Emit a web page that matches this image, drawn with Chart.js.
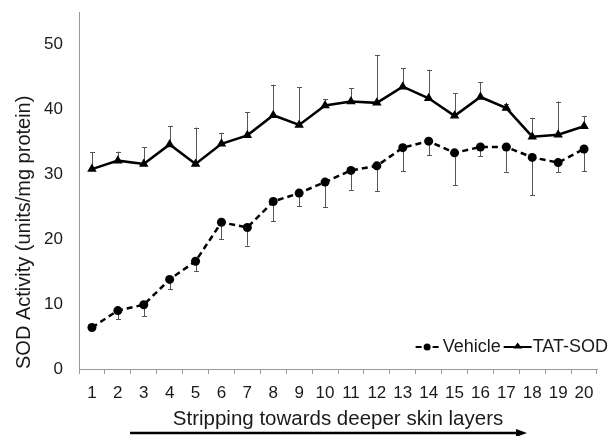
<!DOCTYPE html>
<html>
<head>
<meta charset="utf-8">
<script src="https://cdn.jsdelivr.net/npm/chart.js@4.4.1/dist/chart.umd.min.js"></script>
<style>
html,body{margin:0;padding:0;background:#fff;}
</style>
</head>
<body>
<canvas id="sod" width="611" height="436"></canvas>
<script>
// stripping layers
var layers = ['1','2','3','4','5','6','7','8','9','10','11','12','13','14','15','16','17','18','19','20'];
// SOD activity, units/mg protein
var vehicle    = [6.4, 9.0, 9.9, 13.8, 16.6, 22.6, 21.8, 25.8, 27.1, 28.8, 30.6, 31.3, 34.1, 35.1, 33.3, 34.2, 34.2, 32.6, 31.8, 33.9];
var vehicleErr = [0.3, 1.3, 1.8, 1.5, 1.5, 2.6, 2.8, 3.0, 2.0, 3.9, 3.0, 3.9, 3.6, 2.2, 5.0, 1.4, 3.8, 5.8, 1.5, 3.4];
var tatSod     = [30.8, 32.1, 31.6, 34.6, 31.6, 34.7, 36.0, 39.1, 37.6, 40.6, 41.2, 41.0, 43.5, 41.7, 39.0, 41.9, 40.2, 35.8, 36.1, 37.4];
var tatSodErr  = [2.6, 1.4, 2.6, 2.8, 5.6, 1.7, 3.6, 4.7, 5.8, 1.0, 2.1, 7.4, 2.8, 4.4, 3.5, 2.3, 0.6, 2.9, 5.1, 1.6];
var yTicks = [0, 10, 20, 30, 40, 50];

var FONT = "'Liberation Sans', Arial, sans-serif";
var TEXT = '#1a1a1a';
var AXIS = '#9a9a9a';

// one-sided error bars: vehicle goes down, TAT-SOD goes up
var errorBars = {
    id: 'errorBars',
    beforeDatasetsDraw: function(chart){
        var ctx = chart.ctx;
        var y = chart.scales.y;
        ctx.save();
        ctx.strokeStyle = '#555';
        ctx.lineWidth = 1;
        chart.data.datasets.forEach(function(ds, i){
            var meta = chart.getDatasetMeta(i);
            meta.data.forEach(function(pt, j){
                var end = y.getPixelForValue(ds.data[j] + ds.errorDir * ds.errors[j]);
                var px = Math.round(pt.x) + 0.5;
                ctx.beginPath();
                ctx.moveTo(px, pt.y);
                ctx.lineTo(px, end);
                ctx.moveTo(px - 2.5, Math.round(end) + 0.5);
                ctx.lineTo(px + 2.5, Math.round(end) + 0.5);
                ctx.stroke();
            });
        });
        ctx.restore();
    }
};

// legend inside the plot, bottom right, plus the arrow under the axis title
var extras = {
    id: 'extras',
    afterDraw: function(chart){
        var ctx = chart.ctx;
        var area = chart.chartArea;
        ctx.save();
        ctx.font = '18px ' + FONT;
        ctx.fillStyle = TEXT;
        ctx.textBaseline = 'middle';
        var ly = area.bottom - 22;
        var right = area.right + 11;
        var wTat = ctx.measureText('TAT-SOD').width;
        var wVeh = ctx.measureText('Vehicle').width;
        var xTatText = right - wTat;
        var xTatLine = xTatText - 29;
        var xVehText = xTatLine - 3 - wVeh;
        var xVehLine = xVehText - 27;
        ctx.textAlign = 'left';
        ctx.fillText('TAT-SOD', xTatText, ly);
        ctx.fillText('Vehicle', xVehText, ly);
        ctx.strokeStyle = '#000';
        ctx.fillStyle = '#000';
        ctx.lineWidth = 2;
        // vehicle sample: -●-
        ctx.beginPath();
        ctx.moveTo(xVehLine, ly); ctx.lineTo(xVehLine + 6, ly);
        ctx.moveTo(xVehLine + 17, ly); ctx.lineTo(xVehLine + 23, ly);
        ctx.stroke();
        ctx.beginPath();
        ctx.arc(xVehLine + 11.5, ly, 3.5, 0, Math.PI * 2);
        ctx.fill();
        // TAT-SOD sample: —▲—
        ctx.beginPath();
        ctx.moveTo(xTatLine, ly); ctx.lineTo(xTatLine + 28, ly);
        ctx.stroke();
        ctx.beginPath();
        ctx.moveTo(xTatLine + 14, ly - 4.5);
        ctx.lineTo(xTatLine + 18.5, ly + 1.5);
        ctx.lineTo(xTatLine + 9.5, ly + 1.5);
        ctx.closePath();
        ctx.fill();
        // arrow
        var ay = chart.height - 3;
        var ax0 = area.left + 51;
        var ax1 = area.left + 448;
        ctx.lineWidth = 2.5;
        ctx.beginPath();
        ctx.moveTo(ax0, ay); ctx.lineTo(ax1 - 8, ay);
        ctx.stroke();
        ctx.beginPath();
        ctx.moveTo(ax1, ay);
        ctx.lineTo(ax1 - 11, ay - 4);
        ctx.lineTo(ax1 - 11, ay + 4);
        ctx.closePath();
        ctx.fill();
        ctx.restore();
    }
};

var chart = new Chart(document.getElementById('sod').getContext('2d'), {
    type: 'line',
    data: {
        labels: layers,
        datasets: [{
            label: 'Vehicle',
            data: vehicle,
            errors: vehicleErr,
            errorDir: -1,
            borderColor: '#000',
            backgroundColor: '#000',
            borderWidth: 2.5,
            borderDash: [6, 4],
            pointStyle: 'circle',
            pointRadius: 4.5,
            pointBorderWidth: 0,
            tension: 0
        }, {
            label: 'TAT-SOD',
            data: tatSod,
            errors: tatSodErr,
            errorDir: 1,
            borderColor: '#000',
            backgroundColor: '#000',
            borderWidth: 2.5,
            pointStyle: 'triangle',
            pointRadius: 5.5,
            pointBorderWidth: 0,
            tension: 0
        }]
    },
    options: {
        responsive: false,
        animation: false,
        devicePixelRatio: 1,
        layout: { padding: { top: 12, right: 14, left: 0, bottom: 0 } },
        plugins: {
            legend: { display: false },
            tooltip: { enabled: false }
        },
        scales: {
            x: {
                type: 'category',
                offset: true,
                grid: { display: true, drawOnChartArea: false, offset: true, tickLength: 5, color: AXIS },
                border: { display: true, color: AXIS, width: 1 },
                ticks: { color: TEXT, font: { family: FONT, size: 17 }, padding: 9, maxRotation: 0, autoSkip: false },
                title: {
                    display: true,
                    text: 'Stripping towards deeper skin layers',
                    color: TEXT,
                    font: { family: FONT, size: 20.5 },
                    padding: { top: 0, bottom: 4 }
                },
                afterFit: function(s){ s.height = 67; s.paddingLeft = 0; s.paddingRight = 0; }
            },
            y: {
                min: 0,
                max: 55,
                grid: { display: true, drawOnChartArea: false, drawTicks: false },
                border: { display: true, color: AXIS, width: 1 },
                ticks: { stepSize: 10, color: TEXT, font: { family: FONT, size: 17 }, padding: 16 },
                afterBuildTicks: function(s){
                    s.ticks = yTicks.map(function(v){ return { value: v }; });
                },
                title: {
                    display: true,
                    text: 'SOD Activity (units/mg protein)',
                    align: 'start',
                    color: TEXT,
                    font: { family: FONT, size: 20 },
                    padding: { top: 12, bottom: 0 }
                },
                afterFit: function(s){ s.width = 79; s.paddingTop = 0; s.paddingBottom = 0; }
            }
        }
    },
    plugins: [errorBars, extras]
});
</script>
</body>
</html>
